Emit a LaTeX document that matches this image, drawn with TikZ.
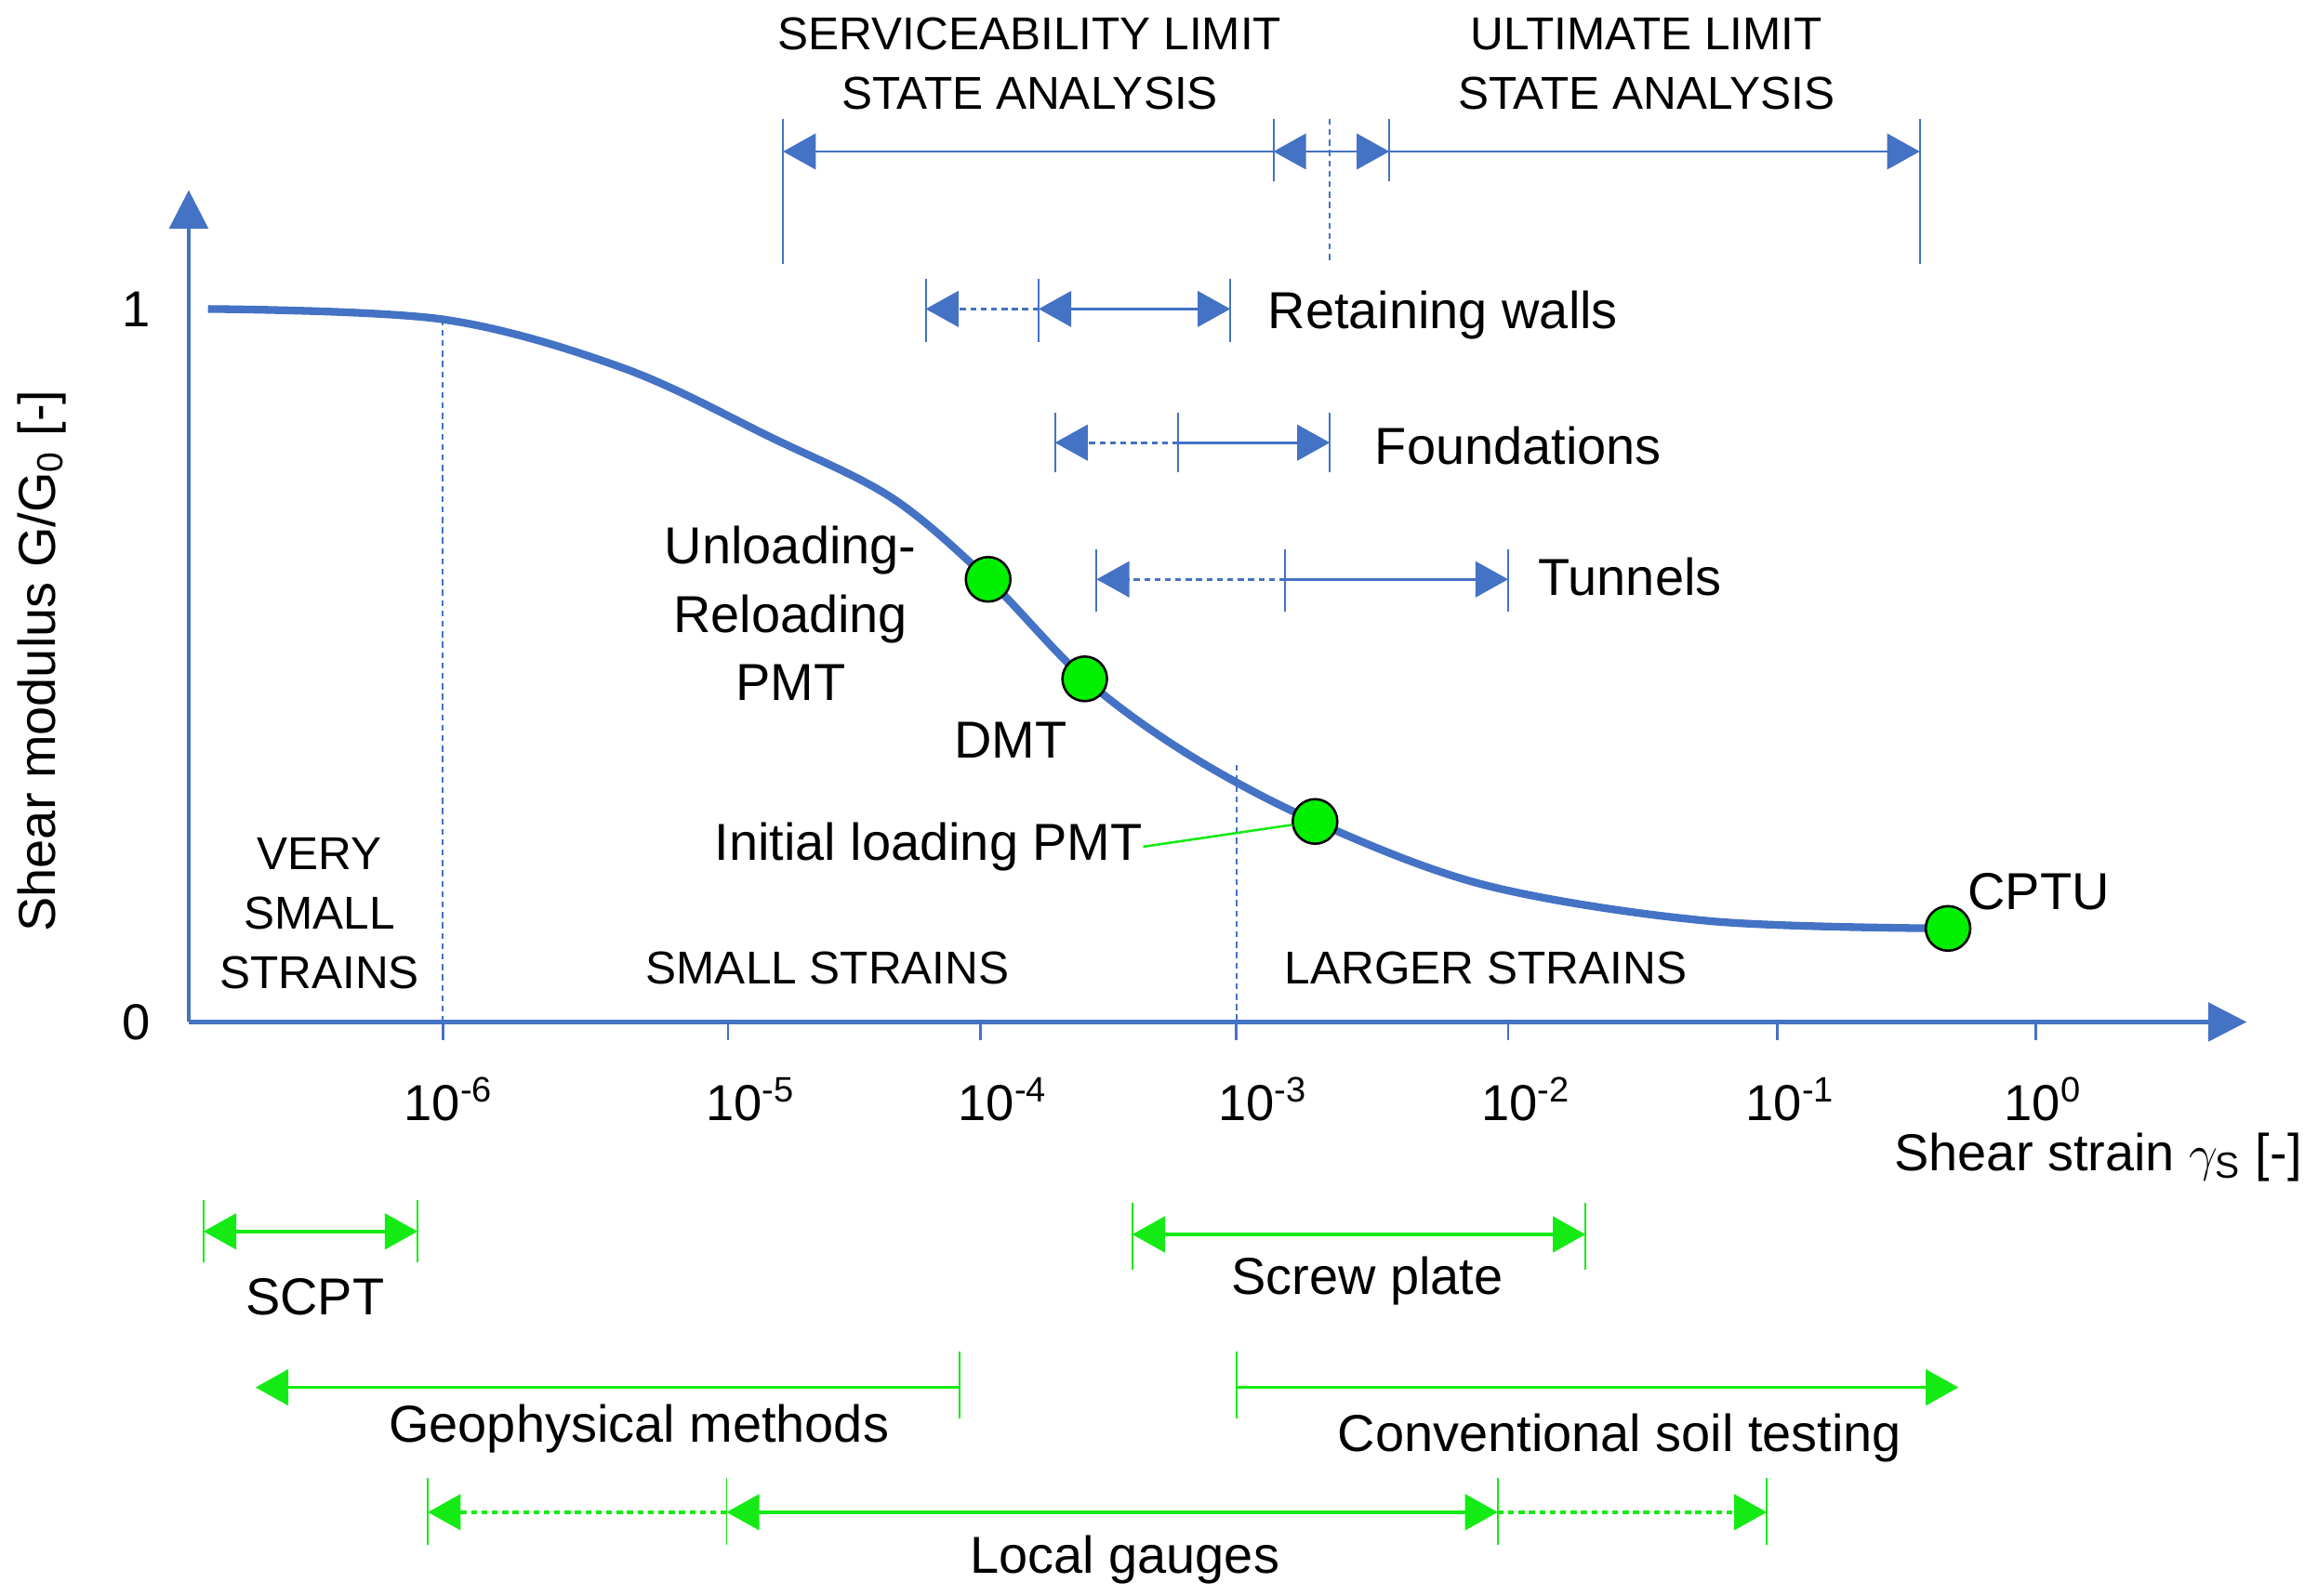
\documentclass[tikz,border=0pt]{standalone}
\usepackage{fontspec}
\setmainfont{Liberation Sans}
\usetikzlibrary{arrows.meta}
\definecolor{bl}{RGB}{68,114,196}
\definecolor{gr}{RGB}{20,235,20}
\definecolor{gf}{RGB}{0,240,0}
\begin{document}
\begin{tikzpicture}[x=0.5pt,y=-0.5pt,
  tip/.style={-{Triangle[length=11pt,width=12pt]}},
  bline/.style={bl,line width=0.9pt},
  gline/.style={gr,line width=1.1pt},
  dsh/.style={dash pattern=on 2pt off 1.5pt},
  bar/.style={line width=0.6pt},
  lab/.style={font=\fontsize{17.5}{21}\selectfont,inner sep=0pt},
  captxt/.style={font=\fontsize{15.5}{20}\selectfont,inner sep=0pt,align=center},
  tk/.style={font=\fontsize{17}{20}\selectfont,inner sep=0pt},
  pt/.style={circle,draw=black,line width=0.8pt,fill=gf,minimum size=15pt,inner sep=0pt}]
\useasboundingbox (0,0) rectangle (1560,1074);
% axes
\coordinate (O) at (127,688);
\coordinate (Ytop) at (127,128);
\coordinate (Xend) at (1512,688);
\draw[bl,line width=1.4pt,-{Triangle[length=13pt,width=13pt]}] (O) -- (Ytop);
\draw[bl,line width=1.4pt,-{Triangle[length=13pt,width=13pt]}] (O) -- (Xend);
\foreach \x in {298,490,660,832,1015,1196,1370}{\draw[bl,line width=0.8pt] (\x,688) -- (\x,700);}
\node[tk] (t6) at (302,740) {10\textsuperscript{-6}};
\node[tk] (t5) at (505,740) {10\textsuperscript{-5}};
\node[tk] (t4) at (675,740) {10\textsuperscript{-4}};
\node[tk] (t3) at (850,740) {10\textsuperscript{-3}};
\node[tk] (t2) at (1027,740) {10\textsuperscript{-2}};
\node[tk] (t1) at (1205,740) {10\textsuperscript{-1}};
\node[tk] (t0) at (1375,740) {10\textsuperscript{0}};
\node[tk] (y1) at (92,208) {1};
\node[tk] (y0) at (92,688) {0};
\node[lab,rotate=90] (yl) at (28,445) {Shear modulus G/G\textsubscript{0} [-]};
\node[lab] (xl) at (1412,779) {Shear strain $\gamma_{\mathrm{S}}$ [-]};
% dashed verticals
\draw[bl,bar,dsh] (298,215) -- (298,688);
\draw[bl,bar,dsh] (832,515) -- (832,688);
% curve
\draw[bl,line width=2.6pt] plot[smooth,tension=0.55] coordinates {(140,208) (298,215) (420,248) (520,295) (600,335) (665,390) (730,457) (800,508) (885,553) (1000,596) (1150,620) (1311,625)};
\node[pt] (p1) at (665,390) {};
\node[pt] (p2) at (730,457) {};
\node[pt] (p3) at (885,553) {};
\node[pt] (p4) at (1311,625) {};
\node[lab,align=center] (l1) at (532,413) {Unloading-\\[2pt]Reloading\\[2pt]PMT};
\node[lab] (l2) at (680,498) {DMT};
\node[lab] (l3) at (625,570) {Initial loading PMT};
\draw[gr,line width=0.8pt] (l3.east) -- (p3);
\node[lab] (l4) at (1372,600) {CPTU};
\node[captxt] (r1) at (215,615) {VERY\\SMALL\\STRAINS};
\node[captxt] (r2) at (557,652) {SMALL STRAINS};
\node[captxt] (r3) at (1000,652) {LARGER STRAINS};
% top
\node[captxt] (sls) at (693,43) {SERVICEABILITY LIMIT\\STATE ANALYSIS};
\node[captxt] (uls) at (1108,43) {ULTIMATE LIMIT\\STATE ANALYSIS};
\coordinate (a1) at (527,102); \coordinate (a2) at (857,102);
\coordinate (a3) at (935,102); \coordinate (a4) at (1292,102);
\draw[bl,bar] (527,80) -- (527,178);
\draw[bl,bar] (857,80) -- (857,122);
\draw[bl,bar,dsh] (895,80) -- (895,178);
\draw[bl,bar] (935,80) -- (935,122);
\draw[bl,bar] (1292,80) -- (1292,178);
\draw[bline,tip] (a2) -- (a1);
\draw[bline,tip] (895,102) -- (a2);
\draw[bline,tip] (895,102) -- (a3);
\draw[bline,tip] (a3) -- (a4);
% retaining walls
\foreach \x in {623,699,828}{\draw[bl,bar] (\x,188) -- (\x,230);}
\draw[bline,dsh,tip] (699,208) -- (623,208);
\draw[bline,{Triangle[length=11pt,width=12pt]}-{Triangle[length=11pt,width=12pt]}] (699,208) -- (828,208);
\node[lab,anchor=west] (rw) at (853,212) {Retaining walls};
% foundations
\foreach \x in {710,793,895}{\draw[bl,bar] (\x,278) -- (\x,318);}
\draw[bline,dsh,tip] (793,298) -- (710,298);
\draw[bline,tip] (793,298) -- (895,298);
\node[lab,anchor=west] (fd) at (925,300) {Foundations};
% tunnels
\foreach \x in {738,865,1015}{\draw[bl,bar] (\x,370) -- (\x,412);}
\draw[bline,dsh,tip] (865,390) -- (738,390);
\draw[bline,tip] (865,390) -- (1015,390);
\node[lab,anchor=west] (tn) at (1035,388) {Tunnels};
% green bottom
\foreach \x in {137,281}{\draw[gr,bar] (\x,808) -- (\x,850);}
\draw[gline,{Triangle[length=11pt,width=12pt]}-{Triangle[length=11pt,width=12pt]}] (137,829) -- (281,829);
\node[lab] (scpt) at (212,873) {SCPT};
\foreach \x in {762,1067}{\draw[gr,bar] (\x,810) -- (\x,855);}
\draw[gline,{Triangle[length=11pt,width=12pt]}-{Triangle[length=11pt,width=12pt]}] (762,831) -- (1067,831);
\node[lab] (sp) at (920,862) {Screw plate};
\draw[gr,bar] (646,910) -- (646,955);
\draw[gline,tip] (646,934) -- (172,934);
\node[lab] (geo) at (430,962) {Geophysical methods};
\draw[gr,bar] (832,910) -- (832,955);
\draw[gline,tip] (832,934) -- (1318,934);
\node[lab] (cst) at (1090,968) {Conventional soil testing};
\foreach \x in {288,489,1008,1189}{\draw[gr,bar] (\x,995) -- (\x,1040);}
\draw[gline,dsh,tip] (489,1018) -- (288,1018);
\draw[gline,{Triangle[length=11pt,width=12pt]}-{Triangle[length=11pt,width=12pt]}] (489,1018) -- (1008,1018);
\draw[gline,dsh,tip] (1008,1018) -- (1189,1018);
\node[lab] (lg) at (757,1050) {Local gauges};
\end{tikzpicture}
\end{document}
